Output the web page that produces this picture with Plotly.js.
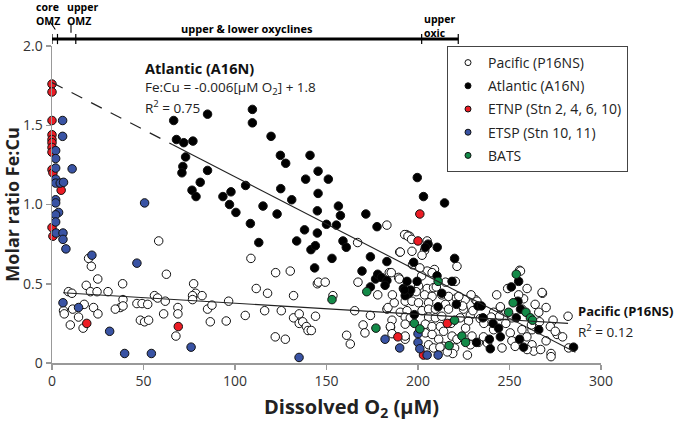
<!DOCTYPE html>
<html>
<head>
<meta charset="utf-8">
<script src="https://cdn.plot.ly/plotly-3.0.1.min.js"></script>
<style>html,body{margin:0;padding:0;background:#fff;}#chart{width:680px;height:424px;}</style>
</head>
<body>
<div id="chart"></div>
<script>
// ---- Data ----
const pacificX = [20,21.5,25,18.7,38.6,9,10.9,21,24.6,30.6,38.8,37.3,34.6,38.8,22.7,17.6,25.1,14.5,11.3,6.3,6.7,10,17,
  46.4,49.2,52.3,48.3,50.6,52.8,56,57.7,61,61.9,58.3,62.5,67.7,68.8,68.8,77.4,78.5,76.8,82,76.8,85,87.4,86.5,95.2,96.5,105.6,
  108.7,122.2,130.2,111.6,117.8,132,145,116.2,125.3,132,135.1,135.1,137,139,139.9,141.7,144,122,127.5,
  183,193.6,195.4,190,167,205,209,205,184.3,189.4,167.2,145.6,149.3,178,153.5,183,165.4,174,170,171,161,163,185,193,185.8,
  192.7,194.5,196.5,190.3,196.7,203.6,202.2,185.4,189.8,207.7,215,200.3,205,208.5,203.6,207.7,213,216.7,221,193,196.7,200.3,205.8,215,225.8,
  183.6,190.3,194,202.2,205.8,209.5,216.7,224.9,228.6,227.6,234,193,195.8,205.8,209.5,213,223,193,204,207.7,212.2,184.9,185.8,193,204,207.7,
  211.3,218.6,221.3,229.5,233,205.8,208.5,214,220,228.6,231.3,229,224.4,
  255.5,259.6,268,282,273.8,272.3,276,279,282.3,272.7,272.7,241.3,244.6,245,238.6,251.3,256.8,257.7,255,266,266.4,262.3,256.8,259.5,262.3,263.2,
  250.4,251.3,245.9,241.3,235.8,238,253.1,259.6,267,270,221.3,220.4,222.3,232.2,245,267.8,256,
  199,202,210,218,226,236,248,262,275,230,240,214,219,197,201,187,243,249,264,270,212,216,227,186];
const pacificY = [0.66,0.61,0.53,0.49,0.50,0.45,0.44,0.45,0.45,0.45,0.40,0.35,0.34,0.36,0.35,0.37,0.31,0.29,0.34,0.33,0.31,0.24,0.22,
  0.375,0.375,0.37,0.27,0.26,0.27,0.425,0.41,0.31,0.39,0.77,0.56,0.17,0.35,0.31,0.50,0.44,0.425,0.425,0.40,0.34,0.365,0.26,0.265,0.39,0.30,
  0.66,0.57,0.58,0.47,0.44,0.425,0.50,0.33,0.33,0.285,0.31,0.25,0.26,0.23,0.205,0.205,0.295,0.165,0.15,
  0.87,0.81,0.80,0.70,0.76,0.77,0.59,0.58,0.57,0.54,0.51,0.51,0.51,0.43,0.425,0.34,0.33,0.30,0.24,0.19,0.175,0.12,0.225,0.15,0.27,
  0.81,0.80,0.78,0.70,0.705,0.71,0.68,0.57,0.53,0.57,0.51,0.485,0.47,0.475,0.43,0.42,0.43,0.42,0.41,0.39,0.39,0.38,0.38,0.37,0.40,
  0.35,0.32,0.33,0.33,0.34,0.34,0.34,0.34,0.30,0.265,0.28,0.29,0.285,0.29,0.285,0.295,0.285,0.245,0.245,0.23,0.23,0.23,0.185,0.17,0.19,0.18,
  0.15,0.17,0.15,0.17,0.13,0.115,0.095,0.105,0.095,0.115,0.40,0.43,0.36,
  0.585,0.47,0.44,0.295,0.27,0.23,0.18,0.165,0.095,0.06,0.04,0.32,0.295,0.35,0.265,0.285,0.34,0.405,0.43,0.32,0.26,0.21,0.21,0.165,0.115,0.075,
  0.19,0.14,0.095,0.21,0.165,0.125,0.105,0.085,0.085,0.14,0.61,0.515,0.42,0.39,0.355,0.445,0.58,
  0.45,0.55,0.48,0.25,0.22,0.25,0.25,0.24,0.2,0.33,0.29,0.2,0.06,0.62,0.6,0.38,0.43,0.47,0.37,0.35,0.1,0.07,0.05,0.43];

const atlanticX = [66.5,85,109.5,109.5,119.7,68,72,77,73,71.5,71,85,81,76.5,78.7,93.4,97.8,97,100.5,105.8,108.4,113,115.3,125,123,127.7,124.8,
  131,138.6,141,145.4,151,145.4,145,138,133.7,141.5,143.9,143.5,145,150,155.4,156.5,157.6,159,153,160.8,171.5,177.6,174,169.4,176.8,178,180,183,
  183,199.6,203,214.5,205.5,204,210.5,220,197.6,210.4,218.6,194,199.5,192,195,193,211,221,232.8,198,232,213,234.6,241,255,251,254.6,253.7,256,
  266,285,239.5,257.7,255.5,245,239,235.5,244,174,182,196,192.6];
const atlanticY = [1.53,1.57,1.60,1.515,1.43,1.41,1.39,1.40,1.30,1.24,1.20,1.215,1.14,1.09,1.05,1.05,1.08,1.00,0.95,1.12,0.88,0.76,0.99,1.10,0.94,1.26,1.31,
  1.03,1.16,1.31,1.21,1.16,1.07,0.96,0.84,0.77,0.715,0.74,0.60,0.82,0.875,0.87,0.99,0.93,0.77,0.66,0.73,0.94,0.86,0.67,0.58,0.53,0.56,0.54,0.52,
  0.64,1.17,1.05,1.01,0.75,0.73,0.73,0.66,0.635,0.55,0.515,0.515,0.515,0.47,0.44,0.425,0.355,0.37,0.36,0.305,0.13,0.44,0.36,0.25,0.515,0.48,0.39,0.285,0.34,
  0.21,0.10,0.09,0.10,0.15,0.165,0.15,0.285,0.22,0.48,0.49,0.46,0.46];

const etnpX = [0,0,0,0,0,0,0,0,0,0.5,5,0,0.5,19,69,189,200,201,216,203];
const etnpY = [1.76,1.71,1.53,1.44,1.41,1.39,1.36,1.33,1.22,1.20,1.09,0.855,0.80,0.25,0.23,0.165,0.77,0.94,0.25,0.05];

const etspX = [5.8,5.8,2,2,2,11,2,2,4.5,6.3,2,2,3.6,2,2,2.2,6,6,7.6,21.8,50.6,46.4,14.5,6,31.5,39.7,54.3,76,135,182,190,200,200,201,205,211];
const etspY = [1.53,1.43,1.34,1.29,1.23,1.225,1.16,1.135,1.135,1.14,1.03,1.01,0.95,0.935,0.89,0.82,0.82,0.78,0.72,0.68,1.01,0.63,0.35,0.38,0.20,0.06,0.06,0.10,0.035,0.15,0.095,0.185,0.13,0.09,0.05,0.05];

const batsX = [153,172,177,198,201,211,220,224,226,217,253.7,252,249.5,259,261.4,262.6];
const batsY = [0.40,0.45,0.22,0.25,0.215,0.515,0.27,0.17,0.13,0.11,0.56,0.38,0.32,0.32,0.285,0.27];

// Regression lines (end points of the fits as drawn)
const atlDashX = [0, 66];
const atlDashY = [1.77, 1.377];
const atlFitX = [66, 286];
const atlFitY = [1.377, 0.068];
const pacFitX = [6, 282];
const pacFitY = [0.443, 0.25];

// Tick labels
const xTicks = [0, 50, 100, 150, 200, 250, 300];
const yTicks = [0, 0.5, 1.0, 1.5, 2.0];
const yTickText = ['0', '0.5', '1.0', '1.5', '2.0'];

// Oxygen-zone boundaries on the top bar (µM O2)
const zoneEdges = [0, 3, 13, 202, 222];

// ---- Build ----
const FONT = 'Open Sans, Noto Sans, sans-serif';
const seriesNames = ['Pacific (P16NS)', 'Atlantic (A16N)', 'ETNP (Stn 2, 4, 6, 10)', 'ETSP (Stn 10, 11)', 'BATS'];
const seriesFill = ['#ffffff', '#000000', '#ec1c24', '#3953a4', '#138a48'];
const seriesX = [pacificX, atlanticX, etnpX, etspX, batsX];
const seriesY = [pacificY, atlanticY, etnpY, etspY, batsY];

const traces = [];
seriesNames.forEach(function(n, i){
  traces.push({type:'scatter', mode:'markers', name:n, x:seriesX[i], y:seriesY[i], cliponaxis:false,
    showlegend:false, marker:{size:8.5, color:seriesFill[i], line:{color:'#111', width:1}}});
});
traces.push({type:'scatter', mode:'lines', x:atlDashX, y:atlDashY, showlegend:false, cliponaxis:false,
  line:{color:'#222', width:1.2, dash:'12px,10px'}});
traces.push({type:'scatter', mode:'lines', x:atlFitX, y:atlFitY, showlegend:false, cliponaxis:false,
  line:{color:'#222', width:1.1}});
traces.push({type:'scatter', mode:'lines', x:pacFitX, y:pacFitY, showlegend:false, cliponaxis:false,
  line:{color:'#222', width:1.1}});
// legend entries (smaller symbols, as in the reference key)
seriesNames.forEach(function(n, i){
  traces.push({type:'scatter', mode:'markers', name:n, x:[null], y:[null], legendgroup:'g'+i,
    marker:{size:6, color:seriesFill[i], line:{color:'#111', width:1}}});
});

const shapes = [];
const barY = 1.022;
shapes.push({type:'line', xref:'x', yref:'paper', x0:zoneEdges[0], x1:zoneEdges[zoneEdges.length-1], y0:barY, y1:barY,
  line:{color:'#000', width:3}});
zoneEdges.forEach(function(e){
  shapes.push({type:'line', xref:'x', yref:'paper', x0:e, x1:e, y0:barY-0.016, y1:barY+0.016, line:{color:'#000', width:1.2}});
});
// pointer marks under the OMZ labels
shapes.push({type:'line', xref:'paper', yref:'paper', x0:-0.004, x1:0.006, y0:1.078, y1:1.052, line:{color:'#000', width:1.1}});
shapes.push({type:'line', xref:'paper', yref:'paper', x0:0.0346, x1:0.0346, y0:1.066, y1:1.042, line:{color:'#000', width:1.1}});

function ann(text, x, y, opts) {
  return Object.assign({text:text, x:x, y:y, xref:'x', yref:'y', showarrow:false, xanchor:'left', yanchor:'middle',
    font:{family:FONT, size:14, color:'#222'}}, opts || {});
}
const topFont = {family:FONT, size:10.5, color:'#000'};
const annotations = [
  ann('<b>Atlantic (A16N)</b>', 49.7, 1.86, {font:{family:FONT, size:14.5, color:'#111'}}),
  ann('Fe:Cu = -0.006[μM O<sub>2</sub>] + 1.8', 49.7, 1.735, {font:{family:FONT, size:13.5, color:'#222'}}),
  ann('R<sup>2</sup> = 0.75', 49.7, 1.615, {font:{family:FONT, size:13.5, color:'#222'}}),
  ann('<b>Pacific (P16NS)</b>', 286.5, 0.325, {font:{family:FONT, size:13, color:'#111'}}),
  ann('R<sup>2</sup> = 0.12', 286.5, 0.205, {font:{family:FONT, size:13.5, color:'#222'}}),
  ann('<b>core<br>OMZ</b>', -0.031, 1.147, {xref:'paper', yref:'paper', yanchor:'top', align:'left', borderpad:0, font:topFont}),
  ann('<b>upper<br>OMZ</b>', 0.025, 1.147, {xref:'paper', yref:'paper', yanchor:'top', align:'left', borderpad:0, font:topFont}),
  ann('<b>upper & lower oxyclines</b>', 0.355, 1.054, {xref:'paper', yref:'paper', xanchor:'center', font:{family:FONT, size:11, color:'#000'}}),
  ann('<b>upper<br>oxic</b>', 0.676, 1.11, {xref:'paper', yref:'paper', yanchor:'top', align:'left', borderpad:0, font:topFont}),
  ann('<b>Dissolved O<sub>2</sub> (μM)</b>', 0.546, -0.140, {xref:'paper', yref:'paper', xanchor:'center',
    font:{family:FONT, size:20, color:'#222'}})
];

const layout = {
  width:680, height:424,
  margin:{l:52, r:79, t:46, b:61},
  paper_bgcolor:'#fff', plot_bgcolor:'#fff',
  font:{family:FONT, size:14, color:'#333'},
  showlegend:true,
  legend:{x:0.72, y:1.0, xanchor:'left', yanchor:'top', bgcolor:'#fff', bordercolor:'#444', borderwidth:1,
    font:{family:FONT, size:14, color:'#222'}, tracegroupgap:2, entrywidth:158, entrywidthmode:'pixels'},
  xaxis:{range:[0,300], showgrid:false, zeroline:false, showline:true, linecolor:'#999', linewidth:1.5,
    ticks:'outside', ticklen:5, tickcolor:'#999', tickwidth:1.5, tickvals:xTicks, ticktext:xTicks.map(String),
    tickfont:{family:FONT, size:14, color:'#333'}, automargin:false},
  yaxis:{range:[0,2], showgrid:false, zeroline:false, showline:true, linecolor:'#999', linewidth:1.5,
    ticks:'outside', ticklen:5, tickcolor:'#999', tickwidth:1.5, tickvals:yTicks, ticktext:yTickText,
    tickfont:{family:FONT, size:14, color:'#333'}, automargin:false,
    title:{text:'<b>Molar ratio Fe:Cu</b>', font:{family:FONT, size:18, color:'#222'}, standoff:4}},
  shapes:shapes,
  annotations:annotations
};
// legend left edge at pixel 447
layout.legend.x = (447 - 52) / 549;

Plotly.newPlot('chart', traces, layout, {staticPlot:true, displayModeBar:false});
</script>
</body>
</html>
